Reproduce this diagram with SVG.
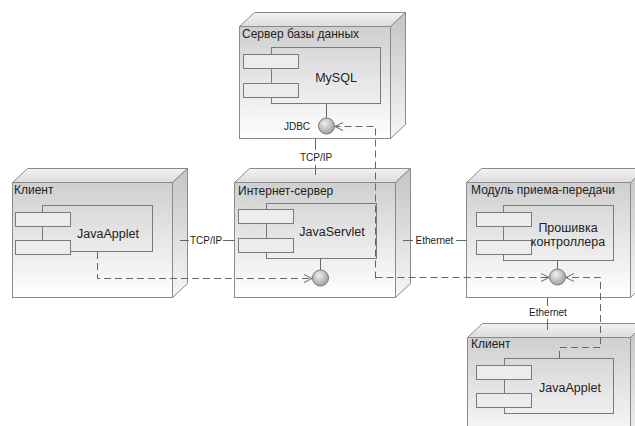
<svg xmlns="http://www.w3.org/2000/svg" width="635" height="426" viewBox="0 0 635 426">
<defs>
<linearGradient id="gFront" x1="0" y1="0" x2="0" y2="1">
<stop offset="0" stop-color="#cfcfcf"/><stop offset="1" stop-color="#ffffff"/>
</linearGradient>
<linearGradient id="gTop" x1="0" y1="0" x2="0" y2="1">
<stop offset="0" stop-color="#f2f2f2"/><stop offset="1" stop-color="#dcdcdc"/>
</linearGradient>
<linearGradient id="gSide" x1="0" y1="0" x2="0" y2="1">
<stop offset="0" stop-color="#c4c4c4"/><stop offset="1" stop-color="#f6f6f6"/>
</linearGradient>
<radialGradient id="gBall" cx="0.4" cy="0.35" r="0.7">
<stop offset="0" stop-color="#f0f0f0"/><stop offset="1" stop-color="#9a9a9a"/>
</radialGradient>
<marker id="arr" markerWidth="10" markerHeight="10" refX="9" refY="5" orient="auto" markerUnits="userSpaceOnUse">
<path d="M1,1 L9,5 L1,9" fill="none" stroke="#666" stroke-width="1"/>
</marker>
<style>
.front{fill:url(#gFront);stroke:#8a8a8a;stroke-width:1}
.top{fill:url(#gTop);stroke:#8a8a8a;stroke-width:1}
.side{fill:url(#gSide);stroke:#8a8a8a;stroke-width:1}
.comp{fill:none;stroke:#7a7a7a;stroke-width:1}
.tab{fill:#ececec;stroke:#7a7a7a;stroke-width:1}
.ball{fill:url(#gBall);stroke:#777;stroke-width:1}
.ln{stroke:#666;stroke-width:1;fill:none}
.dash{stroke:#666;stroke-width:1;fill:none;stroke-dasharray:7,4}
.nl{font-family:"Liberation Sans",Arial,sans-serif;font-size:12px;fill:#222}
.cl{font-family:"Liberation Sans",Arial,sans-serif;font-size:12.5px;fill:#222;text-anchor:middle}
.sl{font-family:"Liberation Sans",Arial,sans-serif;font-size:10px;fill:#222;text-anchor:middle}
</style>
</defs>
<rect width="635" height="426" fill="#fff"/>

<g id="db-server">
<polygon class="top" points="239.5,26.5 254.5,12.5 405.5,12.5 390.5,26.5"/>
<polygon class="side" points="390.5,26.5 405.5,12.5 405.5,124.5 390.5,138.5"/>
<rect class="front" x="239.5" y="26.5" width="151" height="112"/>
<text class="nl" x="242" y="38">Сервер базы данных</text>
<rect class="comp" x="271.5" y="47.5" width="109" height="56"/>
<rect class="tab" x="243.5" y="54.5" width="55" height="14"/>
<rect class="tab" x="243.5" y="83.5" width="55" height="14"/>
<text class="cl" x="336" y="82">MySQL</text>
<line class="ln" x1="326.5" y1="103.5" x2="326.5" y2="118"/>
<circle class="ball" cx="326.5" cy="126" r="8"/>
<text class="sl" x="297" y="130">JDBC</text>
</g>

<g id="client-left">
<polygon class="top" points="12.5,182.5 27.5,168.5 187.5,168.5 172.5,182.5"/>
<polygon class="side" points="172.5,182.5 187.5,168.5 187.5,283.5 172.5,297.5"/>
<rect class="front" x="12.5" y="182.5" width="160" height="115"/>
<text class="nl" x="14" y="194">Клиент</text>
<rect class="comp" x="42.5" y="205.5" width="110" height="46"/>
<rect class="tab" x="15.5" y="212.5" width="55" height="14"/>
<rect class="tab" x="15.5" y="240.5" width="55" height="14"/>
<text class="cl" x="108" y="238">JavaApplet</text>
</g>

<g id="internet-server">
<polygon class="top" points="234.5,182.5 249.5,168.5 410.5,168.5 395.5,182.5"/>
<polygon class="side" points="395.5,182.5 410.5,168.5 410.5,283.5 395.5,297.5"/>
<rect class="front" x="234.5" y="182.5" width="161" height="115"/>
<text class="nl" x="238" y="195">Интернет-сервер</text>
<rect class="comp" x="266.5" y="203.5" width="110" height="55"/>
<rect class="tab" x="238.5" y="209.5" width="55" height="14"/>
<rect class="tab" x="238.5" y="238.5" width="55" height="14"/>
<text class="cl" x="332" y="236">JavaServlet</text>
<line class="ln" x1="320.5" y1="258.5" x2="320.5" y2="270"/>
<circle class="ball" cx="320.5" cy="278" r="8"/>
</g>

<g id="transceiver">
<polygon class="top" points="466.5,182.5 481.5,168.5 645.5,168.5 630.5,182.5"/>
<polygon class="side" points="630.5,182.5 645.5,168.5 645.5,283.5 630.5,297.5"/>
<rect class="front" x="466.5" y="182.5" width="164" height="115"/>
<text class="nl" x="471" y="194">Модуль приема-передачи</text>
<rect class="comp" x="503.5" y="205.5" width="110" height="55"/>
<rect class="tab" x="476.5" y="212.5" width="55" height="14"/>
<rect class="tab" x="476.5" y="240.5" width="55" height="14"/>
<text class="cl" x="568" y="232">Прошивка</text>
<text class="cl" x="568" y="246">контроллера</text>
<line class="ln" x1="557.5" y1="260.5" x2="557.5" y2="269"/>
<circle class="ball" cx="557.5" cy="277" r="8"/>
</g>

<g id="client-bottom">
<polygon class="top" points="467.5,337.5 482.5,323.5 645.5,323.5 630.5,337.5"/>
<polygon class="side" points="630.5,337.5 645.5,323.5 645.5,438.5 630.5,452.5"/>
<rect class="front" x="467.5" y="337.5" width="163" height="115"/>
<text class="nl" x="471" y="348">Клиент</text>
<rect class="comp" x="504.5" y="358.5" width="109" height="55"/>
<rect class="tab" x="476.5" y="365.5" width="55" height="14"/>
<rect class="tab" x="476.5" y="393.5" width="55" height="14"/>
<text class="cl" x="570" y="392">JavaApplet</text>
</g>

<g id="connectors">
<line class="ln" x1="315.5" y1="138.5" x2="315.5" y2="150"/>
<line class="ln" x1="315.5" y1="165" x2="315.5" y2="175"/>
<text class="sl" x="316" y="161">TCP/IP</text>
<line class="ln" x1="180" y1="240.5" x2="189" y2="240.5"/>
<line class="ln" x1="223" y1="240.5" x2="234.5" y2="240.5"/>
<text class="sl" x="206" y="244">TCP/IP</text>
<line class="ln" x1="403" y1="240.5" x2="413" y2="240.5"/>
<line class="ln" x1="456" y1="240.5" x2="466.5" y2="240.5"/>
<text class="sl" x="434.5" y="244">Ethernet</text>
<line class="ln" x1="547.5" y1="297.5" x2="547.5" y2="306"/>
<line class="ln" x1="547.5" y1="319" x2="547.5" y2="330"/>
<text class="sl" x="548" y="316">Ethernet</text>
<path class="dash" d="M97.5,252 V278.5 H312" marker-end="url(#arr)"/>
<path class="dash" d="M375.5,278.5 V126.5 H335" marker-end="url(#arr)"/>
<path class="dash" d="M375.5,277.5 H549" marker-end="url(#arr)"/>
<path class="dash" d="M559.5,358 V347.5 H600.5 V277.5 H566" marker-end="url(#arr)"/>
</g>
</svg>
